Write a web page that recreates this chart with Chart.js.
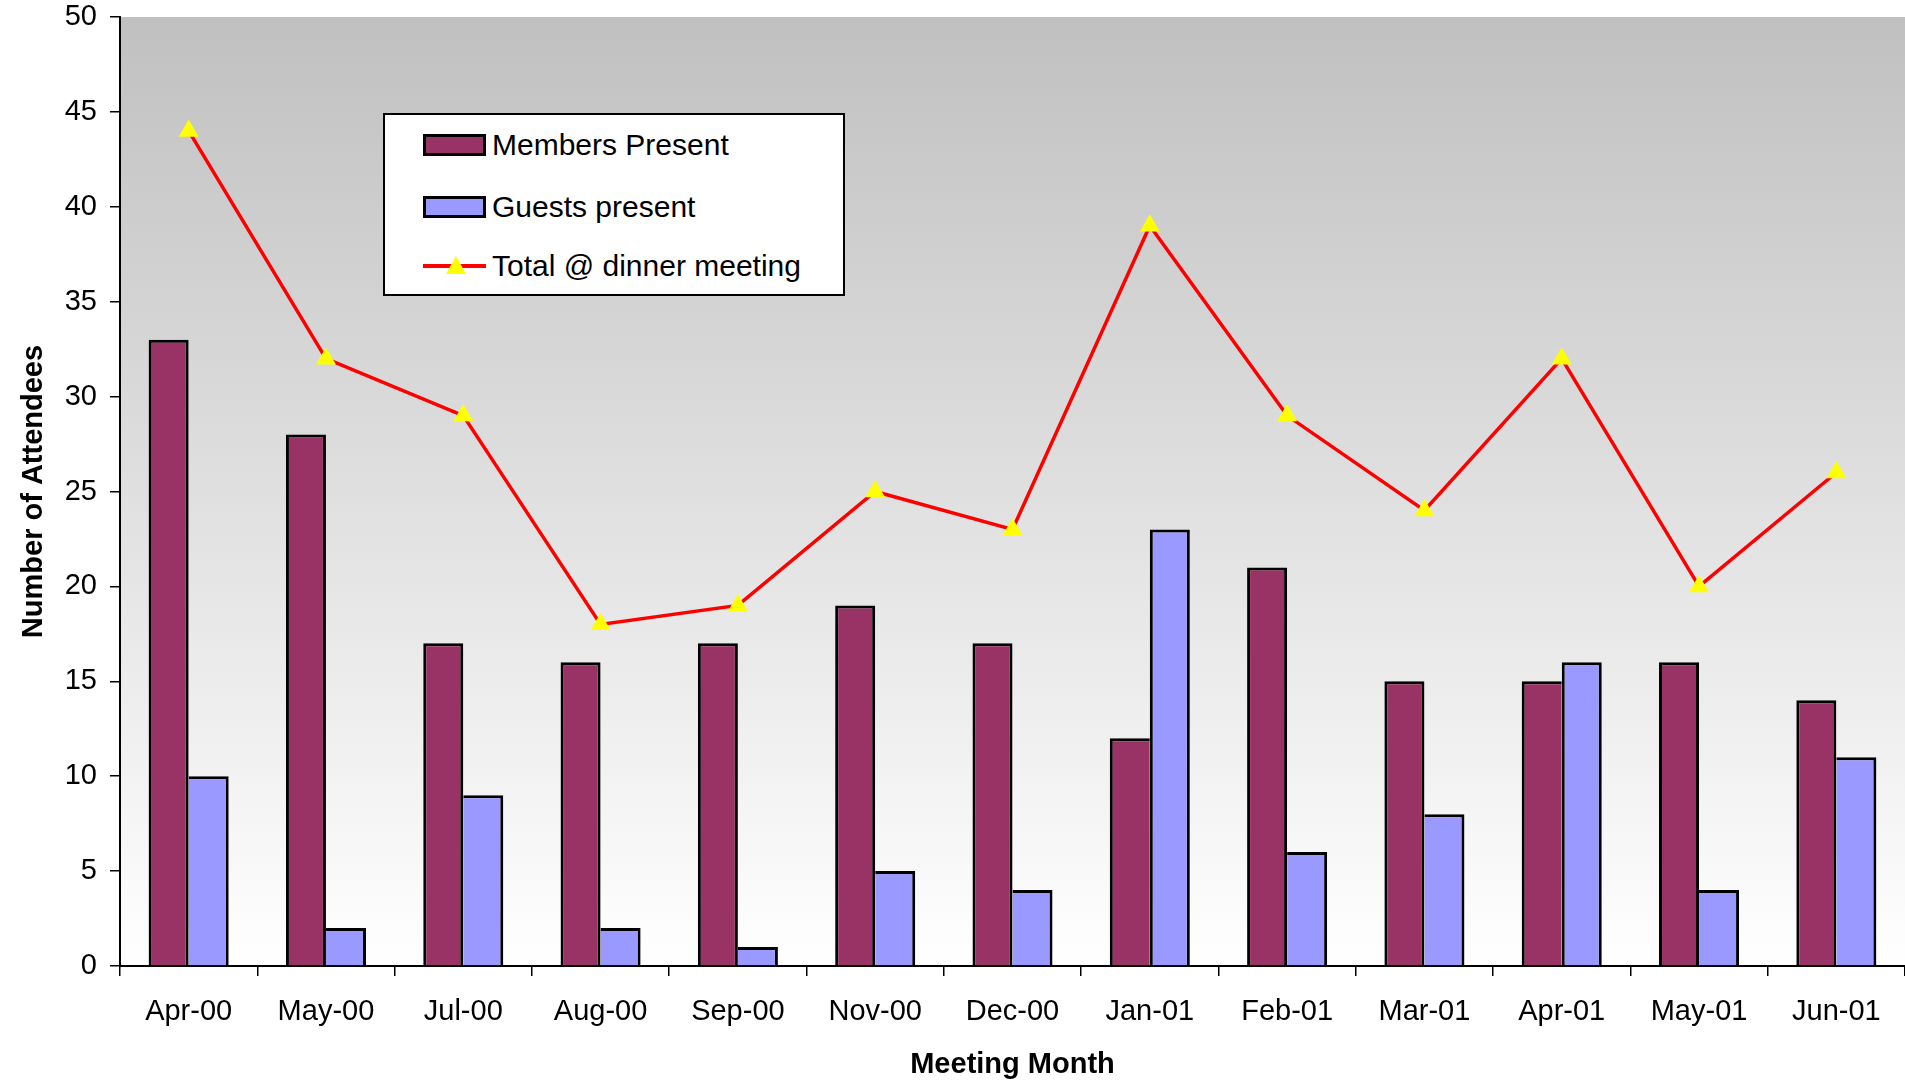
<!DOCTYPE html>
<html>
<head>
<meta charset="utf-8">
<script src="https://cdn.jsdelivr.net/npm/chart.js@4/dist/chart.umd.min.js"></script>
<style>
  html, body { margin: 0; padding: 0; background: #ffffff; overflow: hidden; }
  #wrap { position: relative; width: 1905px; height: 1082px; overflow: hidden; }
  canvas { display: block; }
  #legend {
    position: absolute; left: 383px; top: 113px; width: 458px; height: 179px;
    background: #ffffff; border: 2px solid #000;
    font-family: "Liberation Sans", Arial, sans-serif; font-size: 30px; color: #000;
  }
  .item { position: absolute; left: 0; height: 36px; width: 100%; }
  .sw { position: absolute; left: 38px; top: 7px; width: 57px; height: 16px; border: 3px solid #000; }
  .ln { position: absolute; left: 38px; top: 16px; width: 63px; height: 4px; background: #ff0000; }
  .tri { position: absolute; left: 61px; top: 8px; width: 0; height: 0;
         border-left: 10px solid transparent; border-right: 10px solid transparent; border-bottom: 18px solid #ffff00; }
  .tx { position: absolute; left: 107px; top: 0; line-height: 36px; white-space: nowrap; }
</style>
</head>
<body>
<div id="wrap">
  <canvas id="c" width="1905" height="1082"></canvas>
  <div id="legend"></div>
</div>
<script>
const categories = ["Apr-00","May-00","Jul-00","Aug-00","Sep-00","Nov-00","Dec-00","Jan-01","Feb-01","Mar-01","Apr-01","May-01","Jun-01"];
const membersPresent = [33, 28, 17, 16, 17, 19, 17, 12, 21, 15, 15, 16, 14];
const guestsPresent  = [10, 2, 9, 2, 1, 5, 4, 23, 6, 8, 16, 4, 11];
const totalAtDinner  = [44, 32, 29, 18, 19, 25, 23, 39, 29, 24, 32, 20, 26];
const seriesNames = ["Members Present", "Guests present", "Total @ dinner meeting"];
const yTicks = [0, 5, 10, 15, 20, 25, 30, 35, 40, 45, 50];

const FONT = '"Liberation Sans", Arial, sans-serif';
const BW = 3;

const bgPlugin = {
  id: 'bgGrad',
  beforeDraw(chart) {
    const {ctx, chartArea: a} = chart;
    const g = ctx.createLinearGradient(0, a.top, 0, a.bottom);
    g.addColorStop(0, '#c0c0c0');
    g.addColorStop(1, '#ffffff');
    ctx.save();
    ctx.fillStyle = g;
    ctx.fillRect(a.left, a.top, a.right - a.left, a.bottom - a.top);
    ctx.restore();
  }
};

new Chart(document.getElementById('c'), {
  type: 'bar',
  data: {
    labels: categories,
    datasets: [
      {
        type: 'line',
        label: seriesNames[2],
        data: totalAtDinner,
        borderColor: '#ff0000',
        borderWidth: 3.5,
        pointStyle: 'triangle',
        pointRadius: 11.5,
        pointHoverRadius: 11.5,
        pointBackgroundColor: '#ffff00',
        pointBorderWidth: 0,
        tension: 0,
        order: 0
      },
      {
        label: seriesNames[0],
        data: membersPresent,
        backgroundColor: '#993366',
        borderColor: '#000000',
        borderSkipped: false,
        borderWidth: (c) => {
          const i = c.dataIndex;
          const right = (guestsPresent[i] > membersPresent[i]) ? 0 : BW;
          return {top: BW, left: BW, right: right, bottom: 0};
        },
        categoryPercentage: 0.583,
        barPercentage: 1.0,
        order: 1
      },
      {
        label: seriesNames[1],
        data: guestsPresent,
        backgroundColor: '#9999ff',
        borderColor: '#000000',
        borderSkipped: false,
        borderWidth: (c) => {
          const i = c.dataIndex;
          const left = (guestsPresent[i] > membersPresent[i]) ? BW : 0;
          return {top: BW, left: left, right: BW, bottom: 0};
        },
        categoryPercentage: 0.583,
        barPercentage: 1.0,
        order: 1
      }
    ]
  },
  options: {
    responsive: false,
    devicePixelRatio: 1,
    animation: false,
    layout: { autoPadding: false, padding: { top: 0, right: 0, left: 0, bottom: 0 } },
    plugins: { legend: { display: false }, tooltip: { enabled: false } },
    scales: {
      x: {
        grid: { drawOnChartArea: false, drawTicks: true, tickLength: 10, color: '#000', lineWidth: 1.5, offset: true },
        border: { display: true, color: '#000', width: 2 },
        ticks: { color: '#000', font: { family: FONT, size: 29 }, padding: 19, maxRotation: 0, autoSkip: false },
        title: { display: true, text: 'Meeting Month', color: '#000', font: { family: FONT, size: 29, weight: 'bold' }, padding: { top: 0, bottom: 0 } },
        afterFit(s) { s.height = 116; s.paddingLeft = 0; s.paddingRight = 0; }
      },
      y: {
        min: 0, max: 50,
        afterBuildTicks(s) { s.ticks = yTicks.map(v => ({ value: v })); },
        grid: { drawOnChartArea: false, drawTicks: true, tickLength: 10, color: '#000', lineWidth: 1.5 },
        border: { display: true, color: '#000', width: 2 },
        ticks: { color: '#000', font: { family: FONT, size: 29 }, padding: 13 },
        title: { display: true, text: 'Number of Attendees', color: '#000', font: { family: FONT, size: 29, weight: 'bold' }, padding: { top: 17, bottom: 0 } },
        afterFit(s) { s.width = 120; s.paddingTop = 17; s.paddingBottom = 0; }
      }
    }
  },
  plugins: [bgPlugin]
});

// HTML legend built from the series names
const legend = document.getElementById('legend');
const rows = [
  { name: seriesNames[0], kind: 'bar', color: '#993366', top: 12 },
  { name: seriesNames[1], kind: 'bar', color: '#9999ff', top: 74 },
  { name: seriesNames[2], kind: 'line', top: 133 }
];
rows.forEach(r => {
  const d = document.createElement('div');
  d.className = 'item';
  d.style.top = r.top + 'px';
  if (r.kind === 'bar') {
    const s = document.createElement('div');
    s.className = 'sw';
    s.style.background = r.color;
    d.appendChild(s);
  } else {
    const l = document.createElement('div'); l.className = 'ln'; d.appendChild(l);
    const t = document.createElement('div'); t.className = 'tri'; d.appendChild(t);
  }
  const tx = document.createElement('div');
  tx.className = 'tx';
  tx.textContent = r.name;
  d.appendChild(tx);
  legend.appendChild(d);
});
</script>
</body>
</html>
